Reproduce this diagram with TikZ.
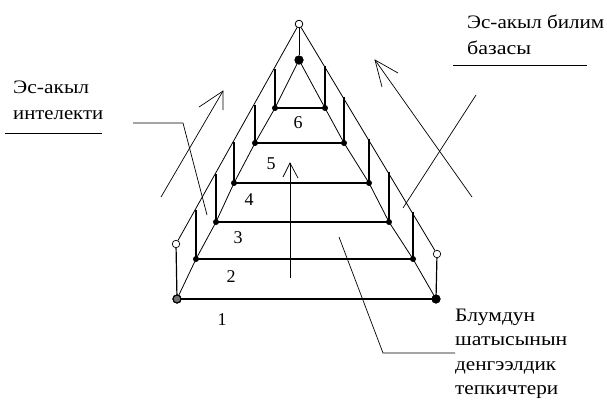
\documentclass[tikz,border=0pt]{standalone}
\usepackage{fontspec}
\usepackage{graphicx}
\setmainfont{Liberation Serif}
\newcommand{\fitw}[2]{\resizebox{#1pt}{\height}{#2}}
\begin{document}
\begin{tikzpicture}[x=1pt,y=-1pt,
  dotm/.style={circle,fill=black,inner sep=0pt,minimum size=6pt},
  bigdot/.style={circle,fill=black,inner sep=0pt,minimum size=9pt},
  ringm/.style={circle,draw=black,fill=white,line width=0.7pt,inner sep=0pt,minimum size=7.5pt},
  sunm/.style={circle,draw=black,fill=black!55,line width=1.1pt,inner sep=0pt,minimum size=8pt},
  levelline/.style={line width=1.2pt},
  edgeline/.style={line width=0.8pt},
  arrowline/.style={line width=0.7pt},
  lbl/.style={font=\fontsize{19}{25}\selectfont,anchor=base west,inner sep=0pt},
  num/.style={font=\fontsize{18}{20}\selectfont,inner sep=0pt}
]
\useasboundingbox (0,0) rectangle (607,399);

% ---- marker nodes ----
\node[ringm] (apex) at (299,24) {};
\node[ringm] (lring) at (176,244) {};
\node[ringm] (rring) at (437,254) {};
\node[bigdot] (top) at (299,60) {};
\node[sunm] (bl) at (177,299) {};
\node[bigdot] (br) at (436,299) {};

\node[dotm] (l6) at (275,108) {};
\node[dotm] (l5) at (255,143) {};
\node[dotm] (l4) at (234,183) {};
\node[dotm] (l3) at (216,222) {};
\node[dotm] (l2) at (196,259) {};
\node[dotm] (r6) at (325,108) {};
\node[dotm] (r5) at (344,143) {};
\node[dotm] (r4) at (369,183) {};
\node[dotm] (r3) at (389,222) {};
\node[dotm] (r2) at (413,259) {};

% tops of verticals on the outer edges
\coordinate (tl6) at (275,68.7);
\coordinate (tl5) at (255,104.5);
\coordinate (tl4) at (234,142);
\coordinate (tl3) at (216,174.2);
\coordinate (tl2) at (196,210);
\coordinate (tr6) at (325,65.5);
\coordinate (tr5) at (344,97);
\coordinate (tr4) at (369,138.5);
\coordinate (tr3) at (389,171.7);
\coordinate (tr2) at (413,211.5);

% ---- outer edges ----
\draw[edgeline] (apex) -- (lring);
\draw[edgeline] (apex) -- (rring);
\draw[edgeline] (apex) -- (top);

% ---- inner edges ----
\draw[edgeline] (top.center) -- (l6.center) -- (l5.center) -- (l4.center) -- (l3.center) -- (l2.center) -- (bl.center);
\draw[edgeline] (top.center) -- (r6.center) -- (r5.center) -- (r4.center) -- (r3.center) -- (r2.center) -- (br.center);

% ---- level lines ----
\draw[levelline] (l6.center) -- (r6.center);
\draw[levelline] (l5.center) -- (r5.center);
\draw[levelline] (l4.center) -- (r4.center);
\draw[levelline] (l3.center) -- (r3.center);
\draw[levelline] (l2.center) -- (r2.center);
\draw[levelline] (bl.center) -- (br.center);

% ---- verticals ----
\draw[levelline] (tl6) -- (l6.center);
\draw[levelline] (tl5) -- (l5.center);
\draw[levelline] (tl4) -- (l4.center);
\draw[levelline] (tl3) -- (l3.center);
\draw[levelline] (tl2) -- (l2.center);
\draw[levelline] (lring) -- (bl.center);
\draw[levelline] (tr6) -- (r6.center);
\draw[levelline] (tr5) -- (r5.center);
\draw[levelline] (tr4) -- (r4.center);
\draw[levelline] (tr3) -- (r3.center);
\draw[levelline] (tr2) -- (r2.center);
\draw[levelline] (rring) -- (br.center);

% redraw markers on top
\node[ringm] at (apex) {};
\node[bigdot] at (top) {};
\node[sunm] at (bl) {};
\node[bigdot] at (br) {};

% ---- level numbers ----
\node[num] (n6) at (298,123) {6};
\node[num] (n5) at (271,164) {5};
\node[num] (n4) at (249,200) {4};
\node[num] (n3) at (238,238) {3};
\node[num] (n2) at (231,277) {2};
\node[num] (n1) at (222,320) {1};

% ---- arrows (open heads) ----
\coordinate (la0) at (161,197);
\coordinate (la1) at (223,91);
\coordinate (lah1) at (199,107);
\coordinate (lah2) at (223,110);
\draw[arrowline] (la0) -- (la1);
\draw[arrowline] (lah1) -- (la1) -- (lah2);

\coordinate (ra0) at (472,197);
\coordinate (ra1) at (375,60);
\coordinate (rah1) at (398,73);
\coordinate (rah2) at (382,87);
\draw[arrowline] (ra0) -- (ra1);
\draw[arrowline] (rah1) -- (ra1) -- (rah2);

\coordinate (ca0) at (290,278);
\coordinate (ca1) at (290,163);
\coordinate (cah1) at (283,177);
\coordinate (cah2) at (298,178);
\draw[arrowline] (ca0) -- (ca1);
\draw[arrowline] (cah1) -- (ca1) -- (cah2);

% ---- labels ----
\node[lbl] (ta1) at (13,93) {\fitw{76}{Эс-акыл}};
\node[lbl] (ta2) at (13,119) {\fitw{90}{интелекти}};
\coordinate (ua1) at (5,133);
\coordinate (ua2) at (102,133);
\draw[arrowline] (ua1) -- (ua2);

\node[lbl] (tb1) at (467,28) {\fitw{137}{Эс-акыл билим}};
\node[lbl] (tb2) at (467,54) {\fitw{64}{базасы}};
\coordinate (ub1) at (453,65);
\coordinate (ub2) at (587,65);
\draw[arrowline] (ub1) -- (ub2);

\node[lbl] (tc1) at (455,321) {\fitw{80}{Блумдун}};
\node[lbl] (tc2) at (455,345.5) {\fitw{112}{шатысынын}};
\node[lbl] (tc3) at (455,370) {\fitw{101}{денгээлдик}};
\node[lbl] (tc4) at (455,394) {\fitw{103}{тепкичтери}};

% ---- pointer lines ----
\coordinate (pa0) at (133,123);
\coordinate (pa1) at (183,123);
\coordinate (pa2) at (207,215);
\draw[arrowline] (pa0) -- (pa1) -- (pa2);

\coordinate (pb0) at (476,95);
\coordinate (pb1) at (403,208);
\draw[arrowline] (pb0) -- (pb1);

\coordinate (pc0) at (339,237);
\coordinate (pc1) at (383,353);
\coordinate (pc2) at (455,353);
\draw[arrowline] (pc0) -- (pc1) -- (pc2);
\end{tikzpicture}
\end{document}
